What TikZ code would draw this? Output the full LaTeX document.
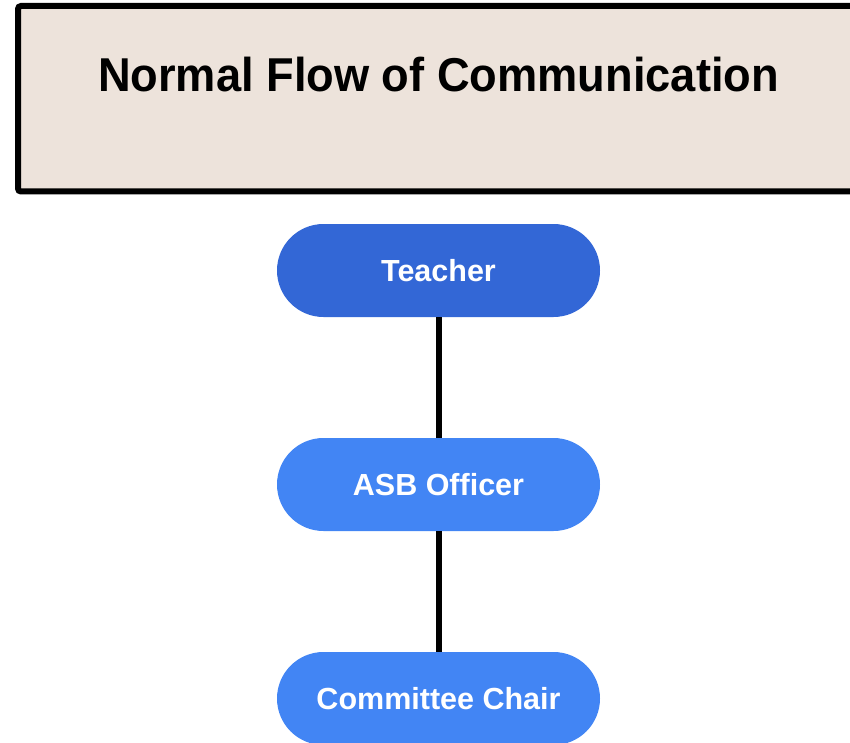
\documentclass[tikz,border=0pt]{standalone}
\usepackage{fontspec}
\setmainfont{Liberation Sans}
\usetikzlibrary{shapes.misc}
\definecolor{titlefill}{HTML}{EDE3DB}
\definecolor{darkblue}{HTML}{3367D6}
\definecolor{lightblue}{HTML}{4285F4}
\begin{document}
\begin{tikzpicture}[x=1pt,y=-1pt,
  pill/.style={rounded rectangle, minimum width=323pt, minimum height=93pt,
    text=white, font=\fontsize{30.5}{36}\selectfont\bfseries, inner sep=0pt},
  link/.style={line width=6pt, black}]
  \useasboundingbox (0,0) rectangle (850,743);
  % heading panel, running off the right edge
  \draw[line width=6pt, fill=titlefill, rounded corners=3pt] (18,6) rectangle (880,191.5);
  \node[font=\fontsize{47.5}{56}\selectfont\bfseries, anchor=base, xscale=0.952] (title) at (438.5,92) {Normal Flow of Communication};
  % chain of roles
  \node[pill, fill=darkblue] (teacher) at (438.5,270.5) {Teacher};
  \node[pill, fill=lightblue] (asb) at (438.5,484.5) {ASB Officer};
  \node[pill, fill=lightblue] (chair) at (438.5,698.5) {Committee Chair};
  \draw[link] (teacher.south) -- (asb.north);
  \draw[link] (asb.south) -- (chair.north);
\end{tikzpicture}
\end{document}
